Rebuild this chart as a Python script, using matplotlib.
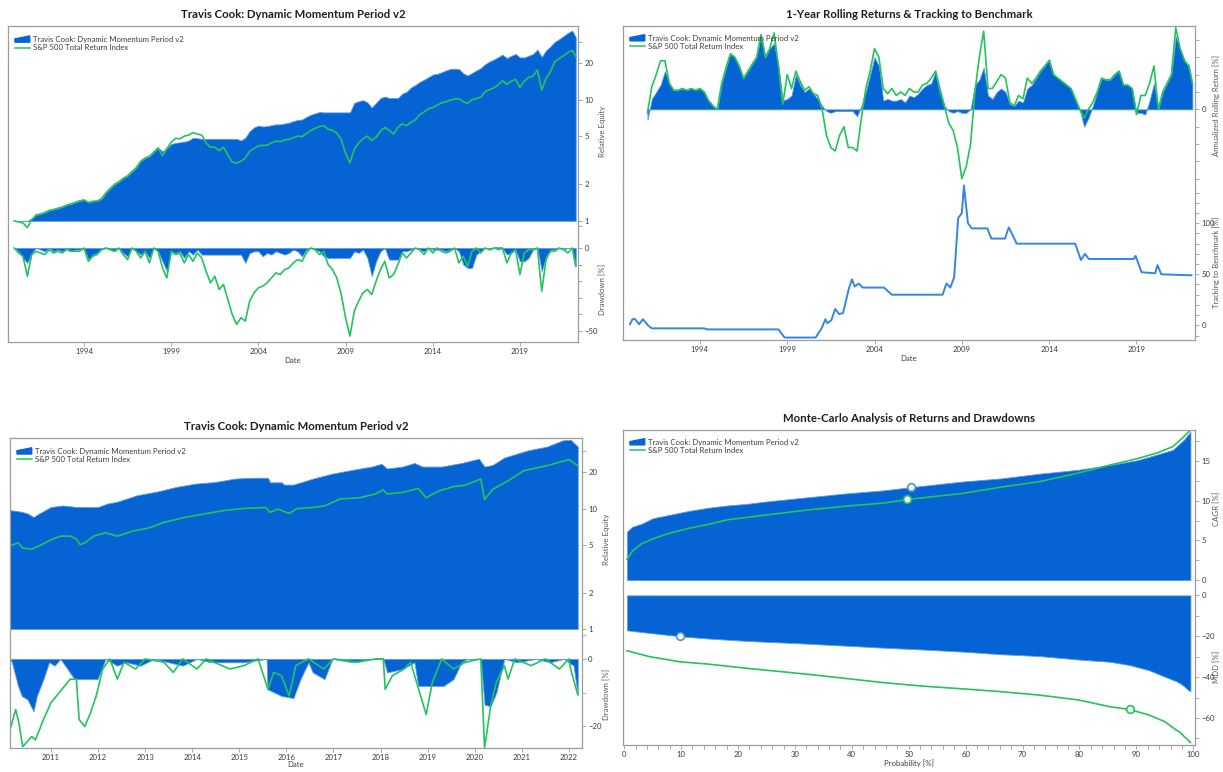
import numpy as np
import matplotlib
matplotlib.use("Agg")
import matplotlib.pyplot as plt
from matplotlib.patches import Patch, Polygon
from matplotlib.lines import Line2D
from matplotlib.legend_handler import HandlerPatch
from matplotlib.ticker import FixedLocator, NullFormatter

plt.rcParams['font.family'] = ['Lato', 'DejaVu Sans']

# ---------------- data ----------------
strat_name = "Travis Cook: Dynamic Momentum Period v2"
bench_name = "S&P 500 Total Return Index"

# quarterly samples 1990.00 ... 2022.00, plus last point 2022.20
qtr = np.append(np.arange(1990.0, 2022.01, 0.25), 2022.2)

eq_strat = [
    1.00, 1.00, 1.00, 1.00,   # 1990
    1.05, 1.12, 1.14, 1.17,
    1.22, 1.24, 1.27, 1.30,
    1.35, 1.38, 1.42, 1.46,
    1.49, 1.42, 1.45, 1.46,   # 1994
    1.52, 1.70, 1.85, 2.00,
    2.10, 2.25, 2.35, 2.55,
    2.75, 3.10, 3.30, 3.40,
    3.70, 4.00, 3.75, 3.95,   # 1998
    4.30, 4.40, 4.45, 4.50,
    4.60, 4.85, 4.80, 4.75,   # 2000
    4.75, 4.75, 4.75, 4.75,
    4.75, 4.75, 4.75, 4.75,
    4.60, 4.85, 5.50, 5.90,
    6.10, 6.00, 6.05, 6.15,   # 2004
    6.25, 6.25, 6.35, 6.45,
    6.65, 6.80, 6.85, 7.20,
    7.50, 7.70, 7.90, 7.85,
    7.85, 7.85, 7.85, 7.85,   # 2008
    7.85, 7.85, 9.40, 9.70,
    9.90, 9.50, 8.60, 9.40,   # 2010
    10.3, 10.6, 10.3, 10.3,
    10.3, 11.2, 11.6, 12.6,   # 2012
    13.2, 14.0, 14.6, 15.3,
    16.1, 16.3, 16.8, 17.4,   # 2014
    17.9, 18.0, 17.9, 16.5,
    15.8, 16.6, 17.4, 18.2,   # 2016
    19.6, 20.6, 21.4, 22.4,
    23.5, 22.0, 23.0, 23.8,   # 2018
    22.3, 22.3, 23.0, 23.8,
    25.9, 22.5, 25.5, 27.5,   # 2020
    30.0, 31.5, 33.5, 35.5,
    37.2, 32.7,               # 2022
]

eq_bench = [
    1.00, 0.98, 0.96, 0.88,   # 1990
    1.02, 1.12, 1.14, 1.17,
    1.22, 1.24, 1.27, 1.30,
    1.35, 1.38, 1.42, 1.46,
    1.49, 1.42, 1.45, 1.46,   # 1994
    1.52, 1.70, 1.85, 2.00,
    2.10, 2.25, 2.35, 2.55,
    2.75, 3.10, 3.30, 3.40,
    3.70, 4.00, 3.45, 3.95,   # 1998
    4.45, 4.80, 4.75, 5.00,
    5.10, 5.35, 5.20, 5.10,   # 2000
    4.40, 4.05, 4.05, 3.80,
    4.05, 3.50, 3.05, 3.00,
    3.10, 3.30, 3.75, 3.95,
    4.15, 4.20, 4.20, 4.40,   # 2004
    4.55, 4.50, 4.65, 4.70,
    4.85, 5.00, 4.95, 5.25,
    5.55, 5.80, 6.00, 6.10,
    5.70, 5.60, 5.30, 4.70,   # 2008
    3.60, 3.00, 3.90, 4.40,
    4.75, 5.00, 4.60, 4.90,   # 2010
    5.50, 5.90, 5.60, 5.20,
    5.90, 6.30, 6.10, 6.50,   # 2012
    6.80, 7.50, 7.90, 8.40,
    8.60, 9.00, 9.40, 9.60,   # 2014
    9.90, 10.1, 10.2, 9.60,
    9.30, 10.0, 10.2, 10.5,   # 2016
    11.6, 12.1, 12.5, 13.2,
    14.3, 13.4, 14.2, 14.7,   # 2018
    12.6, 14.2, 15.3, 15.6,
    17.6, 12.0, 15.0, 17.0,   # 2020
    20.6, 21.8, 23.0, 24.5,
    25.5, 22.7,               # 2022
]

dd_strat = [
    0, -2, -6, -9,       # 1990
    -3, 0, -1, -2,
    0, -2, -1, -2,
    0, -2, -1, -1,
    0, -7, -4, -3,       # 1994
    -1, 0, -1, -2,
    0, -3, -5, 0,
    -2, -4, -2, -6,
    0, -2, -8, -14,      # 1998
    -2, -3, -2, -6,
    -2, -4, -1, -4,      # 2000
    -4, -4, -4, -4,
    -4, -4, -4, -4,
    -4, -9, -3, -2,
    -2, -5, -3, -4,      # 2004
    -2, -3, -4, -3,
    -1, -2, -5, -1,
    0, -1, -2, -5,
    -6, -6, -6, -6,      # 2008
    -6, -6, -2, -3,
    -1, -6, -17, -8,     # 2010
    -2, 0, -7, -7,
    -7, -2, -2, -1,      # 2012
    0, -1, -2, 0,
    -1, -1, -1, -2,      # 2014
    -1, 0, -2, -10,
    -12, -12, -4, -2,    # 2016
    0, -1, 0, -1,
    0, -4, -3, -1,       # 2018
    -8, -8, -6, -1,
    0, -14, -5, -1,      # 2020
    -1, 0, -1, 0,
    0, -11,              # 2022
]

dd_bench = [
    0, -3, -5, -17,      # 1990
    -4, -2, -3, -4,
    -1, -3, -2, -3,
    -1, -2, -2, -2,
    0, -8, -5, -4,       # 1994
    -1, 0, -1, -2,
    0, -4, -7, 0,
    -2, -6, -2, -9,
    0, -2, -12, -18,     # 1998
    -2, -4, -3, -9,
    -4, -8, -3, -6,      # 2000
    -14, -21, -17, -25,
    -22, -31, -40, -46,
    -42, -44, -32, -27,
    -24, -23, -21, -18,  # 2004
    -15, -16, -13, -12,
    -9, -7, -8, -3,
    0, -1, -4, -2,
    -10, -13, -18, -28,  # 2008
    -42, -53, -38, -32,
    -27, -25, -28, -20,  # 2010
    -13, -8, -18, -16,
    -10, -3, -6, -3,     # 2012
    0, -1, -4, 0,
    -3, 0, -2, -3,       # 2014
    -2, 0, -9, -5,
    -11, -2, 0, -3,      # 2016
    0, -1, 0, 0,
    0, -9, -3, -1,       # 2018
    -16, -3, -1, -1,
    0, -26, -7, -2,      # 2020
    -2, 0, -1, -3,
    0, -11,              # 2022
]

nan = np.nan
roll_strat = [
    nan, nan, nan, nan,  # 1990
    -6, 6, 10, 14,
    22, 15, 11, 11,
    12, 11, 12, 11,
    12, 10, 5, 2,        # 1994
    0, 15, 24, 32,
    30, 25, 18, 22,
    26, 30, 43, 30,
    35, 38, 25, 5,       # 1998
    6, 8, 20, 14,
    10, 12, 9, 6,        # 2000
    2, -1, -2, -1,
    -1, -1, -1, -1,
    -4, 2, 10, 20,
    30, 25, 5, 6,        # 2004
    5, 5, 6, 4,
    8, 7, 9, 12,
    14, 15, 22, 12,
    2, -1, -2, -1,       # 2008
    -2, -2, 0, 14,
    17, 24, 8, 6,        # 2010
    10, 12, 10, 3,
    2, 5, 4, 12,         # 2012
    14, 18, 22, 25,
    29, 20, 18, 16,      # 2014
    14, 12, 6, 0,
    -10, -5, 2, 10,      # 2016
    18, 17, 17, 20,
    22, 14, 14, 12,      # 2018
    -2, -2, -3, 5,
    15, 0, 10, 15,       # 2020
    20, 42, 35, 28,
    25, 15,              # 2022
]

roll_bench = [
    nan, nan, nan, nan,  # 1990
    -2, 13, 20, 28,
    28, 15, 11, 11,
    12, 11, 12, 11,
    12, 10, 5, 2,        # 1994
    0, 15, 24, 32,
    30, 25, 18, 22,
    26, 30, 43, 30,
    35, 44, 25, 3,       # 1998
    20, 12, 22, 16,
    11, 13, 9, 8,        # 2000
    0, -15, -22, -24,
    -15, -10, -22, -22,
    -24, -5, 12, 22,
    35, 30, 12, 9,       # 2004
    12, 8, 10, 8,
    12, 10, 10, 14,
    15, 18, 22, 10,
    2, -8, -12, -22,     # 2008
    -40, -33, -20, 10,
    30, 45, 12, 12,      # 2010
    16, 20, 18, 4,
    2, 8, 6, 18,         # 2012
    15, 18, 22, 25,
    28, 20, 18, 16,      # 2014
    14, 12, 6, 0,
    -5, 0, 4, 10,        # 2016
    18, 17, 17, 20,
    22, 14, 14, 12,      # 2018
    -3, 8, 8, 15,
    25, 0, 10, 15,       # 2020
    20, 47, 35, 28,
    25, 15,              # 2022
]

trk_year = [1990.0, 1990.14, 1990.3, 1990.52, 1990.74, 1991.03, 1991.25, 1994.27,
            1994.4, 1998.5, 1998.85, 2000.63, 2000.97, 2001.19, 2001.3, 2001.53,
            2001.75, 2001.97, 2002.2, 2002.53, 2002.71, 2002.87, 2003.09, 2003.32,
            2004.54, 2004.99, 2007.9, 2008.12, 2008.34, 2008.56, 2008.79, 2009.0,
            2009.12, 2009.35, 2009.57, 2010.46, 2010.69, 2011.47, 2011.69, 2011.92,
            2012.14, 2015.49, 2015.82, 2016.05, 2016.27, 2018.84, 2018.95, 2019.29,
            2020.07, 2020.2, 2020.42, 2022.15]
trk_val = [1, 6, 6, 1, 6, 0, -3, -3,
           -4, -4, -12, -12, -3, 6, 2, 5,
           16, 11, 12, 36, 45, 38, 41, 37,
           37, 30, 30, 41, 37, 47, 105, 110,
           137, 100, 95, 95, 85, 85, 96, 88,
           80, 80, 64, 70, 65, 65, 68, 52,
           51, 59, 50, 49]

# 2010-2022 detail
bl_s_year = [2010.13, 2010.38, 2010.5, 2010.63, 2010.75, 2011.0, 2011.25, 2011.54,
             2012.0, 2012.2, 2012.41, 2012.83, 2013.24, 2013.66, 2014.07, 2014.49,
             2014.9, 2015.23, 2015.61, 2015.65, 2015.9, 2015.95, 2016.15, 2016.56,
             2016.98, 2017.39, 2017.81, 2018.02, 2018.14, 2018.47, 2018.72, 2018.89,
             2019.3, 2019.72, 2020.09, 2020.21, 2020.38, 2020.63, 2021.13, 2021.54,
             2021.87, 2022.04, 2022.19]
bl_s_eq = [9.7, 9.4, 9.1, 8.5, 9.1, 10.3, 10.6, 10.3,
           10.3, 11.0, 11.4, 12.9, 13.8, 15.1, 16.1, 16.6,
           17.7, 18.0, 18.0, 16.5, 16.5, 15.8, 15.8, 17.7,
           19.5, 20.9, 22.3, 23.5, 21.5, 22.3, 23.9, 22.3,
           22.3, 23.9, 25.9, 22.3, 23.0, 26.5, 30.4, 32.7,
           36.8, 37.2, 32.7]

bl_b_year = [2010.13, 2010.3, 2010.4, 2010.59, 2010.75, 2011.0, 2011.2, 2011.41,
             2011.54, 2011.62, 2011.72, 2011.91, 2012.16, 2012.41, 2012.74, 2013.08,
             2013.41, 2013.82, 2014.24, 2014.65, 2015.07, 2015.57, 2015.65, 2015.82,
             2016.06, 2016.23, 2016.56, 2016.81, 2017.14, 2017.56, 2017.89, 2018.06,
             2018.14, 2018.47, 2018.8, 2018.97, 2019.22, 2019.55, 2019.8, 2020.13,
             2020.21, 2020.38, 2020.71, 2021.04, 2021.54, 2022.0, 2022.19]
bl_b_eq = [4.9, 5.2, 4.7, 4.6, 4.9, 5.5, 5.9, 5.9,
           5.6, 5.0, 5.2, 5.9, 6.3, 5.9, 6.5, 6.9,
           7.7, 8.4, 9.0, 9.6, 10.0, 10.2, 9.3, 9.9,
           9.1, 10.0, 10.2, 10.5, 12.0, 12.3, 13.2, 14.3,
           13.2, 13.6, 14.7, 12.3, 13.9, 15.2, 15.6, 17.6,
           11.9, 14.4, 17.0, 20.6, 22.7, 25.5, 22.7]

bl_sdd_year = [2010.13, 2010.17, 2010.3, 2010.38, 2010.5, 2010.63, 2010.7, 2010.84,
               2010.96, 2011.08, 2011.2, 2011.3, 2011.5, 2011.99, 2012.16, 2012.4,
               2012.6, 2012.9, 2013.2, 2013.5, 2013.8, 2014.1, 2014.4, 2014.8,
               2015.1, 2015.58, 2015.6, 2015.9, 2016.15, 2016.3, 2016.47, 2016.56,
               2016.81, 2016.98, 2017.4, 2017.8, 2018.06, 2018.14, 2018.47, 2018.72,
               2018.8, 2019.34, 2019.55, 2019.72, 2019.85, 2020.13, 2020.21, 2020.34,
               2020.46, 2020.63, 2020.9, 2021.3, 2021.6, 2021.9, 2022.1, 2022.19]
bl_sdd = [0, -1, -8, -11, -12, -15.5, -11, -6,
          -1, -2, 0, -2, -6, -6, 0, -2,
          -1, -2, 0, -1, -2, 0, -1, -1,
          -1, 0, -9, -11, -11.6, -6, -1, -4,
          -6, 0, -1, 0, 0, -4, -3, -1,
          -8, -8, -6, -1, 0, 0, -13.6, -14,
          -10, 0, -1, 0, -1, 0, -2, -10.6]

bl_bdd_year = [2010.13, 2010.25, 2010.32, 2010.4, 2010.59, 2010.67, 2010.84, 2011.0,
               2011.25, 2011.41, 2011.54, 2011.6, 2011.72, 2011.84, 2011.96, 2012.1,
               2012.25, 2012.41, 2012.55, 2012.8, 2013.0, 2013.4, 2013.6, 2013.8,
               2014.1, 2014.3, 2014.8, 2015.1, 2015.4, 2015.61, 2015.73, 2015.9,
               2016.06, 2016.2, 2016.47, 2016.8, 2017.0, 2017.5, 2017.9, 2018.06,
               2018.1, 2018.25, 2018.5, 2018.64, 2018.97, 2019.1, 2019.3, 2019.55,
               2019.8, 2020.13, 2020.21, 2020.34, 2020.46, 2020.63, 2020.71, 2020.85,
               2021.2, 2021.5, 2021.8, 2022.0, 2022.04, 2022.19]
bl_bdd = [-21, -15, -19, -26, -23, -24, -18, -13,
          -8.7, -6, -6, -18, -20, -16, -11, -3,
          0, -6, -1, -3, 0, -1, -4, 0,
          -3, 0, -3, -2, 0, -9, -4, -5,
          -11, -2, 0, -3, 0, -1, 0, 0,
          -9, -5, -3, -1, -16.5, -7, 0, -3,
          -1, 0, -26.4, -14, -7, -2, -6, 0,
          -2, 0, -3, 0, -3, -10.6]

# Monte-Carlo curves
mc_prob = [0.5, 1.4, 3.1, 5.1, 7.9, 11.3, 14.7, 18.2, 21.6, 25.0, 31.9, 38.8,
           45.6, 50.4, 59.3, 66.2, 73.0, 79.9, 85.4, 90.2, 93.6, 96.4, 98.4, 99.5]
cagr_strat = [6.1, 6.7, 7.1, 7.8, 8.2, 8.7, 9.1, 9.4, 9.6, 9.9, 10.4, 10.9,
              11.3, 11.7, 12.4, 12.8, 13.4, 13.9, 14.5, 15.1, 15.8, 16.4, 17.7, 18.7]
cagr_bench = [2.6, 3.6, 4.6, 5.2, 5.9, 6.5, 7.0, 7.6, 7.9, 8.2, 8.8, 9.3,
              9.7, 10.2, 10.9, 11.7, 12.4, 13.5, 14.5, 15.3, 16.0, 16.8, 18.1, 18.9]

mdd_prob = [0.5, 4.5, 9.8, 14.7, 21.6, 31.9, 38.8, 45.6, 52.5, 59.3, 66.2,
            73.0, 79.9, 85.4, 88.8, 92.2, 95.0, 97.0, 97.7, 98.4, 99.1, 99.5]
mdd_strat = [-17.1, -18.4, -20.0, -21.1, -22.3, -23.6, -24.6, -25.6, -26.5, -27.5, -28.8,
             -29.7, -31.4, -32.5, -34.1, -36.6, -39.8, -42.0, -43.1, -44.5, -46.3, -47.0]
mdd_bench = [-27.1, -30.0, -32.5, -33.6, -35.7, -38.5, -40.6, -42.7, -44.4, -45.7, -47.1,
             -48.8, -51.2, -54.5, -55.8, -58.5, -61.8, -65.9, -67.0, -69.1, -70.8, -72.0]

# highlighted points (prob, value)
mark_cagr_strat = (50.4, 11.7)
mark_cagr_bench = (49.7, 10.2)
mark_mdd_strat = (9.8, -20.0)
mark_mdd_bench = (88.8, -55.8)

# ---------------- style ----------------
BLUE = '#0563d4'
EDGE = '#5c9de8'
GREEN = '#21c55c'
TRACK = '#3386e4'
FRAME = '#9c9c9c'
TXT = '#3c3c3c'
FS = 5.6
W, H = 1223, 772


def box(x0, y0, x1, y1):
    return [x0 / W, 1 - y1 / H, (x1 - x0) / W, (y1 - y0) / H]


def style(ax, part):
    ax.yaxis.tick_right()
    ax.yaxis.set_label_position('right')
    for s in ax.spines.values():
        s.set_color(FRAME)
        s.set_linewidth(0.9)
    ax.tick_params(which='both', direction='out', length=3, width=0.6,
                   color=FRAME, labelsize=FS, labelcolor=TXT, pad=1.5)
    if part == 'top':
        ax.spines['bottom'].set_visible(False)
        ax.tick_params(axis='x', which='both', bottom=False, labelbottom=False)
    else:
        ax.spines['top'].set_visible(False)


def ylab(ax, text, xpos):
    ax.set_ylabel(text, fontsize=FS, color='#555555')
    ax.yaxis.set_label_coords(xpos, 0.5)


# area-chart glyph for the legend (short left edge, slanted top)
def area_glyph(legend, orig_handle, xdescent, ydescent, width, height, fontsize):
    x0, y0 = -xdescent, -ydescent
    pts = [(x0, y0), (x0 + width, y0), (x0 + width, y0 + height * 1.05),
           (x0, y0 + height * 0.55)]
    return Polygon(pts, closed=True)


def add_legend(ax):
    h = [Patch(facecolor=BLUE, edgecolor=BLUE),
         Line2D([], [], color=GREEN, lw=1.1)]
    ax.legend(h, [strat_name, bench_name], loc='upper left',
              bbox_to_anchor=(0.004, 0.975), frameon=False, fontsize=FS,
              labelcolor=TXT, handlelength=1.9, handleheight=0.8,
              labelspacing=0.2, handletextpad=0.4, borderaxespad=0.2,
              handler_map={Patch: HandlerPatch(patch_func=area_glyph)})


def title(ax, text):
    ax.set_title(text, fontsize=8.2, fontweight='bold', color='#1e1e1e', pad=6)


def equity_ticks(ax):
    ax.set_yscale('log')
    ax.yaxis.set_major_locator(FixedLocator([1, 2, 5, 10, 20]))
    ax.set_yticklabels(['1', '2', '5', '10', '20'])
    ax.yaxis.set_minor_locator(FixedLocator([0.9, 30]))
    ax.yaxis.set_minor_formatter(NullFormatter())


fig = plt.figure(figsize=(W / 100, H / 100), dpi=100)

# ---------- top left: full history ----------
ax1 = fig.add_axes(box(8, 26, 578, 236))
ax2 = fig.add_axes(box(8, 236, 578, 342))
style(ax1, 'top')
style(ax2, 'bottom')
ax1.fill_between(qtr, 1, eq_strat, facecolor=BLUE, edgecolor=EDGE, lw=0.6)
ax1.plot(qtr, eq_bench, color=GREEN, lw=1.2)
equity_ticks(ax1)
ax1.set_ylim(0.75, 40.5)
ax2.fill_between(qtr, 0, dd_strat, facecolor=BLUE, edgecolor=EDGE, lw=0.6)
ax2.plot(qtr, dd_bench, color=GREEN, lw=1.2)
ax2.set_ylim(-56.6, 7.2)
ax2.yaxis.set_major_locator(FixedLocator([0, -50]))
ax2.yaxis.set_minor_locator(FixedLocator([-10, -20, -30, -40]))
for ax in (ax1, ax2):
    ax.set_xlim(1989.64, 2022.33)
ax2.set_xticks([1994, 1999, 2004, 2009, 2014, 2019])
ax2.set_xticklabels(['1994', '1999', '2004', '2009', '2014', '2019'])
ax2.set_xlabel('Date', fontsize=FS, color=TXT, labelpad=1)
title(ax1, strat_name)
add_legend(ax1)
ylab(ax1, 'Relative Equity', 1.036)
ylab(ax2, 'Drawdown [%]', 1.036)

# ---------- top right: rolling returns & tracking ----------
ax3 = fig.add_axes(box(623, 26, 1195, 184))
ax4 = fig.add_axes(box(623, 184, 1195, 340))
style(ax3, 'top')
style(ax4, 'bottom')
ax3.fill_between(qtr, 0, roll_strat, facecolor=BLUE, edgecolor=EDGE, lw=0.6)
ax3.plot(qtr, roll_bench, color=GREEN, lw=1.2)
ax3.set_ylim(-43, 48)
ax3.yaxis.set_major_locator(FixedLocator([0]))
ax3.yaxis.set_minor_locator(FixedLocator([-40, -30, -20, -10, 10, 20, 30, 40]))
ax4.plot(trk_year, trk_val, color=TRACK, lw=1.4)
ax4.set_ylim(-14.4, 138.5)
ax4.yaxis.set_major_locator(FixedLocator([0, 50, 100]))
ax4.yaxis.set_minor_locator(FixedLocator([-10, 10, 20, 30, 40, 60, 70, 80, 90, 110, 120, 130]))
for ax in (ax3, ax4):
    ax.set_xlim(1989.6, 2022.35)
ax4.set_xticks([1994, 1999, 2004, 2009, 2014, 2019])
ax4.set_xticklabels(['1994', '1999', '2004', '2009', '2014', '2019'])
ax4.set_xlabel('Date', fontsize=FS, color=TXT, labelpad=1)
title(ax3, '1-Year Rolling Returns & Tracking to Benchmark')
add_legend(ax3)
ylab(ax3, 'Annualized Rolling Return [%]', 1.031)
ylab(ax4, 'Tracking to Benchmark [%]', 1.031)

# ---------- bottom left: 2010-2022 ----------
ax5 = fig.add_axes(box(10, 438, 582, 641))
ax6 = fig.add_axes(box(10, 641, 582, 748))
style(ax5, 'top')
style(ax6, 'bottom')
ax5.fill_between(bl_s_year, 1, bl_s_eq, facecolor=BLUE, edgecolor=EDGE, lw=0.6)
ax5.plot(bl_b_year, bl_b_eq, color=GREEN, lw=1.2)
equity_ticks(ax5)
ax5.set_ylim(0.795, 38.5)
ax6.fill_between(bl_sdd_year, 0, bl_sdd, facecolor=BLUE, edgecolor=EDGE, lw=0.6)
ax6.plot(bl_bdd_year, bl_bdd, color=GREEN, lw=1.2)
ax6.set_ylim(-26.4, 5.3)
ax6.yaxis.set_major_locator(FixedLocator([0, -20]))
ax6.yaxis.set_minor_locator(FixedLocator([-10]))
for ax in (ax5, ax6):
    ax.set_xlim(2010.13, 2022.28)
bl_ticks = list(range(2011, 2023))
ax6.set_xticks(bl_ticks)
ax6.set_xticklabels([str(y) for y in bl_ticks])
ax6.set_xlabel('Date', fontsize=FS, color=TXT, labelpad=0)
title(ax5, strat_name)
add_legend(ax5)
ylab(ax5, 'Relative Equity', 1.036)
ylab(ax6, 'Drawdown [%]', 1.036)

# ---------- bottom right: Monte-Carlo ----------
ax7 = fig.add_axes(box(623, 430, 1195, 588))
ax8 = fig.add_axes(box(623, 588, 1195, 745))
style(ax7, 'top')
style(ax8, 'bottom')
ax7.fill_between(mc_prob, 0, cagr_strat, facecolor=BLUE, edgecolor=EDGE, lw=0.6)
ax7.plot(mc_prob, cagr_bench, color=GREEN, lw=1.2)
ax7.plot(*mark_cagr_strat, 'o', ms=5.5, mfc='white', mec='#4a8fe0', mew=1.2, zorder=5)
ax7.plot(*mark_cagr_bench, 'o', ms=5.5, mfc='white', mec=GREEN, mew=1.2, zorder=5)
ax7.set_ylim(-1.0, 18.9)
ax7.yaxis.set_major_locator(FixedLocator([0, 5, 10, 15]))
ax7.yaxis.set_minor_locator(FixedLocator([2.5, 7.5, 12.5, 17.5]))
ax8.fill_between(mdd_prob, 0, mdd_strat, facecolor=BLUE, edgecolor=EDGE, lw=0.6)
ax8.plot(mdd_prob, mdd_bench, color=GREEN, lw=1.2)
ax8.plot(*mark_mdd_strat, 'o', ms=5.5, mfc='white', mec='#4a8fe0', mew=1.2, zorder=5)
ax8.plot(*mark_mdd_bench, 'o', ms=5.5, mfc='white', mec=GREEN, mew=1.2, zorder=5)
ax8.set_ylim(-73.2, 3.6)
ax8.yaxis.set_major_locator(FixedLocator([0, -20, -40, -60]))
ax8.yaxis.set_minor_locator(FixedLocator([-10, -30, -50, -70]))
for ax in (ax7, ax8):
    ax.set_xlim(-0.2, 100.3)
ax8.set_xticks(range(0, 101, 10))
ax8.xaxis.set_minor_locator(FixedLocator(list(range(0, 101, 2))))
ax8.set_xlabel('Probability [%]', fontsize=FS, color=TXT, labelpad=1)
title(ax7, 'Monte-Carlo Analysis of Returns and Drawdowns')
add_legend(ax7)
ylab(ax7, 'CAGR [%]', 1.031)
ylab(ax8, 'MDD [%]', 1.031)

fig.savefig('out.png', dpi=100)
